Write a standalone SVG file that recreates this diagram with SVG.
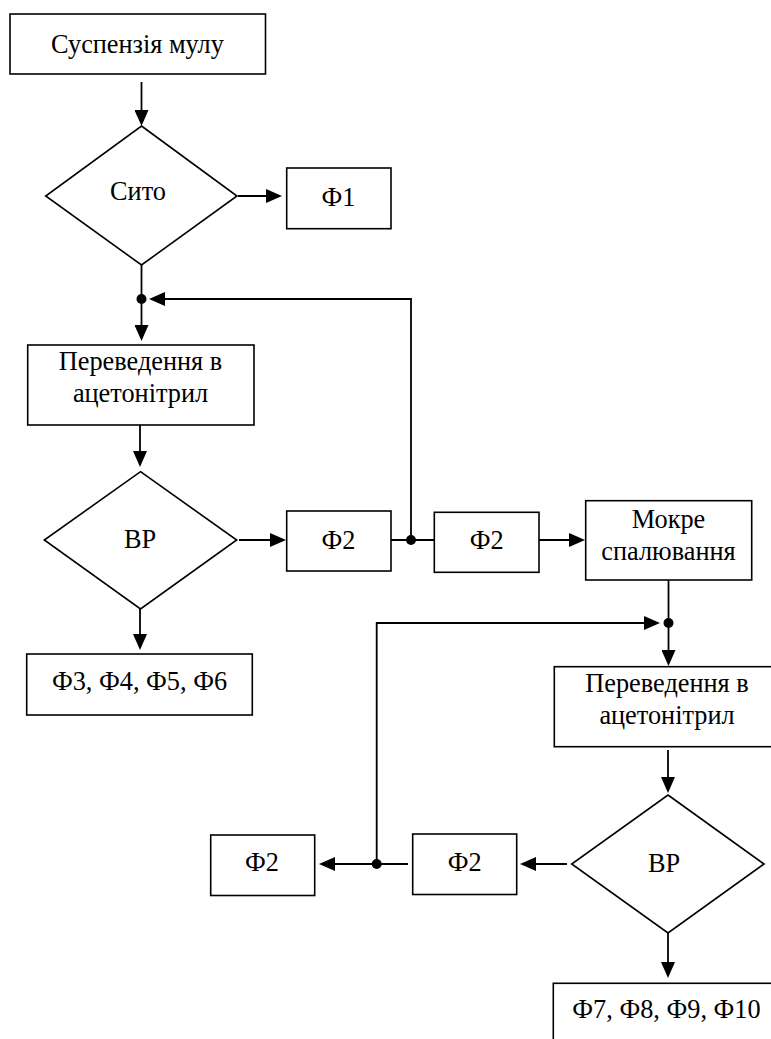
<svg xmlns="http://www.w3.org/2000/svg" width="771" height="1039" viewBox="0 0 771 1039">
<defs>
<style>
.box{fill:#fff;stroke:#000;stroke-width:1.6}
.dia{fill:#fff;stroke:#000;stroke-width:1.6}
.ln{fill:none;stroke:#000;stroke-width:1.8}
.t{font-family:"Liberation Serif","Times New Roman",serif;font-size:26.3px;fill:#000;text-anchor:middle}
.dot{fill:#000}
</style>
<marker id="ah" markerUnits="userSpaceOnUse" markerWidth="16" markerHeight="14" refX="8" refY="7" orient="auto" viewBox="0 0 16 14">
<path d="M0,0 L16,7 L0,14 Z" fill="#000"/>
</marker>
</defs>
<rect width="771" height="1039" fill="#fff"/>

<g id="connectors">
<path class="ln" d="M141.5,82 V118" marker-end="url(#ah)"/>
<path class="ln" d="M238,196 H274" marker-end="url(#ah)"/>
<path class="ln" d="M141.5,265 V333" marker-end="url(#ah)"/>
<path class="ln" d="M411,540 V299 H157" marker-end="url(#ah)"/>
<path class="ln" d="M140,425 V459" marker-end="url(#ah)"/>
<path class="ln" d="M239,540 H278" marker-end="url(#ah)"/>
<path class="ln" d="M391,540 H434"/>
<path class="ln" d="M539,540 H577" marker-end="url(#ah)"/>
<path class="ln" d="M140,609 V642" marker-end="url(#ah)"/>
<path class="ln" d="M668.5,580 V658" marker-end="url(#ah)"/>
<path class="ln" d="M376.7,864 V623 H652" marker-end="url(#ah)"/>
<path class="ln" d="M668,750 V785" marker-end="url(#ah)"/>
<path class="ln" d="M668,933 V970" marker-end="url(#ah)"/>
<path class="ln" d="M567,864 H528" marker-end="url(#ah)"/>
<path class="ln" d="M408,864 H327" marker-end="url(#ah)"/>
<circle class="dot" cx="141.5" cy="299" r="5"/>
<circle class="dot" cx="411" cy="540" r="5"/>
<circle class="dot" cx="668.5" cy="623" r="5"/>
<circle class="dot" cx="376.7" cy="864" r="5"/>
</g>

<g id="suspension">
<rect class="box" x="10" y="14" width="255.5" height="60"/>
<text class="t" x="137.5" y="52.5">Суспензія мулу</text>
</g>

<g id="sieve">
<polygon class="dia" points="141.5,126 237,196 141.5,265 45.7,196"/>
<text class="t" x="138" y="200">Сито</text>
</g>

<g id="f1">
<rect class="box" x="286.7" y="168" width="104.3" height="60.7"/>
<text class="t" x="338.5" y="206">Ф1</text>
</g>

<g id="transfer1">
<rect class="box" x="27.7" y="345" width="226.3" height="80"/>
<text class="t" x="140.5" y="370">Переведення в</text>
<text class="t" x="140.5" y="401.5">ацетонітрил</text>
</g>

<g id="vr1">
<polygon class="dia" points="140.5,471.7 236.7,540 140.5,609 44.3,540"/>
<text class="t" x="140" y="548">ВР</text>
</g>

<g id="f2a">
<rect class="box" x="286.7" y="511" width="104.3" height="60"/>
<text class="t" x="338.5" y="548.5">Ф2</text>
</g>

<g id="f2b">
<rect class="box" x="434.3" y="512.3" width="104.7" height="60"/>
<text class="t" x="486.7" y="548.5">Ф2</text>
</g>

<g id="wet">
<rect class="box" x="585.7" y="500.7" width="166" height="79.3"/>
<text class="t" x="668.5" y="528">Мокре</text>
<text class="t" x="668.5" y="560">спалювання</text>
</g>

<g id="f3456">
<rect class="box" x="26.7" y="654" width="225.6" height="61"/>
<text class="t" x="139.5" y="690">Ф3, Ф4, Ф5, Ф6</text>
</g>

<g id="transfer2">
<rect class="box" x="554.3" y="666.7" width="226" height="80"/>
<text class="t" x="667" y="692">Переведення в</text>
<text class="t" x="667" y="723.5">ацетонітрил</text>
</g>

<g id="vr2">
<polygon class="dia" points="668,795 764,864 668,933 571.7,864"/>
<text class="t" x="664" y="871.5">ВР</text>
</g>

<g id="f2c">
<rect class="box" x="412.7" y="834" width="104" height="60.5"/>
<text class="t" x="464.7" y="871">Ф2</text>
</g>

<g id="f2d">
<rect class="box" x="210.7" y="835" width="104" height="60.5"/>
<text class="t" x="262" y="871">Ф2</text>
</g>

<g id="f78910">
<rect class="box" x="553.3" y="983.3" width="226" height="70"/>
<text class="t" x="666.5" y="1018">Ф7, Ф8, Ф9, Ф10</text>
</g>
</svg>
